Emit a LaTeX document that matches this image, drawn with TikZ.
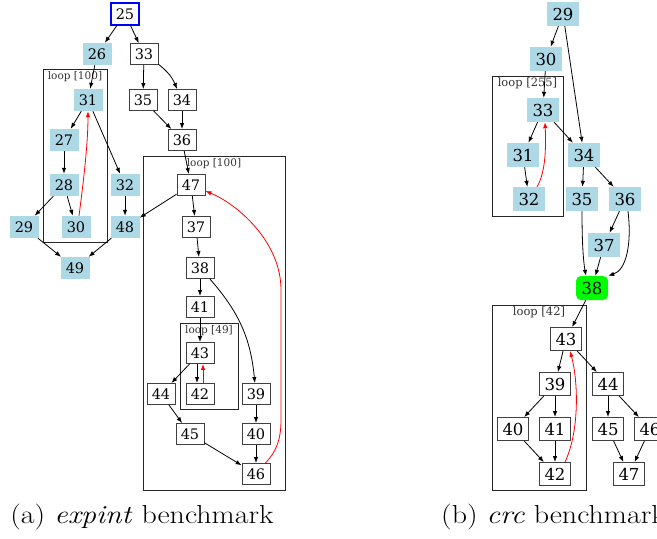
\documentclass[tikz,border=0pt]{standalone}
\usepackage{fontspec}
\usepackage{tikz}
\usetikzlibrary{positioning, arrows.meta, calc}
\newfontfamily\dvs{DejaVu Serif}
\definecolor{lblue}{HTML}{ADD8E6}
\definecolor{vgreen}{HTML}{00FF00}
\definecolor{entryblue}{HTML}{0000FF}
\newcommand{\lfont}{\dvs\fontsize{14.5}{16}\selectfont}
\newcommand{\rfont}{\dvs\fontsize{16.5}{18}\selectfont}
\newcommand{\capwide}[1]{\scalebox{1.15}[1]{#1}}
\begin{document}
\begin{tikzpicture}[
        x=1pt, y=-1pt,
        blk/.style={fill=lblue, minimum width=29pt, minimum height=22pt, inner sep=0pt, font=\lfont},
        wht/.style={draw=black!75, line width=0.9pt, fill=white, minimum width=28pt, minimum height=21pt, inner sep=0pt, font=\lfont},
        entry/.style={draw=entryblue, line width=1.3pt, fill=white, minimum width=28pt, minimum height=22pt, inner sep=0pt, font=\lfont},
        blkR/.style={fill=lblue, minimum width=32pt, minimum height=24pt, inner sep=0pt, font=\rfont},
        whtR/.style={draw=black!75, line width=0.9pt, fill=white, minimum width=31pt, minimum height=23pt, inner sep=0pt, font=\rfont},
        exitR/.style={blkR, fill=vgreen, rounded corners=5pt},
        loopbox/.style={draw=black!85, line width=0.8pt},
        looplbl/.style={anchor=north, inner sep=1pt, text=black!80, font=\dvs\fontsize{10.5}{12}\selectfont},
        arrow/.style={->, >={Latex[length=6pt,width=4.5pt]}, line width=0.8pt},
        back/.style={arrow, red},
        caption/.style={inner sep=0pt, font=\fontsize{26}{30}\selectfont}
    ]
    \useasboundingbox (0,0) rectangle (657,539);
    \clip (0,0) rectangle (657,539);

    % (a) expint
    \node[entry] (n25) at (125,14) {25};
    \node[blk] (n26) at (97,54) {26};
    \node[wht] (n33) at (144,54) {33};
    \node[blk] (n31) at (88,100) {31};
    \node[wht] (n35) at (143,100) {35};
    \node[wht] (n34) at (182,100) {34};
    \node[blk] (n27) at (64,140) {27};
    \node[wht] (n36) at (182,140) {36};
    \node[blk] (n28) at (64,185) {28};
    \node[blk] (n32) at (125,185) {32};
    \node[wht] (n47) at (191,185) {47};
    \node[blk] (n29) at (24,227) {29};
    \node[blk] (n30) at (76,227) {30};
    \node[blk] (n48) at (125,227) {48};
    \node[wht] (n37) at (196,227) {37};
    \node[blk] (n49) at (75,268) {49};
    \node[wht] (n38) at (200,268) {38};
    \node[wht] (n41) at (200,307) {41};
    \node[wht] (n43) at (200,353) {43};
    \node[wht] (n44) at (161,394) {44};
    \node[wht] (n42) at (200,394) {42};
    \node[wht] (n39) at (256,394) {39};
    \node[wht] (n45) at (190,434) {45};
    \node[wht] (n40) at (256,434) {40};
    \node[wht] (n46) at (256,474) {46};

    \draw[loopbox] (43,69) rectangle (107,242);
    \node[looplbl] (la) at (75,70) {loop [100]};
    \draw[loopbox] (143,156) rectangle (285,490);
    \node[looplbl] (lb) at (214,157) {loop [100]};
    \draw[loopbox] (180,323) rectangle (238,409);
    \node[looplbl] (lc) at (209,324) {loop [49]};

    \draw[arrow] (n25) -- (n26); \draw[arrow] (n25) -- (n33);
    \draw[arrow] (n26) -- (n31);
    \draw[arrow] (n33) -- (n35); \draw[arrow] (n33) to[bend left=15] (n34);
    \draw[arrow] (n35) -- (n36); \draw[arrow] (n34) -- (n36);
    \draw[arrow] (n31) -- (n27); \draw[arrow] (n31) -- (n32);
    \draw[arrow] (n27) -- (n28);
    \draw[arrow] (n28) -- (n29); \draw[arrow] (n28) -- (n30);
    \draw[back] ([xshift=3pt]n30.north) .. controls (83,185) and (88,145) .. (n31.south);
    \draw[arrow] (n32) -- (n48);
    \draw[arrow] (n29) -- (n49); \draw[arrow] (n48) -- (n49);
    \draw[arrow] (n36) -- (n47);
    \draw[arrow] (n47) -- (n48); \draw[arrow] (n47) -- (n37);
    \draw[arrow] (n37) -- (n38);
    \draw[arrow] (n38) -- (n41); \draw[arrow] (n38) to[bend left=18] (n39);
    \draw[arrow] (n41) -- (n43);
    \draw[arrow] (n43) -- (n44);
    \draw[arrow] ([xshift=-3pt]n43.south) -- ([xshift=-3pt]n42.north);
    \draw[back] ([xshift=3pt]n42.north) -- ([xshift=3pt]n43.south);
    \draw[arrow] (n44) -- (n45);
    \draw[arrow] (n39) -- (n40); \draw[arrow] (n40) -- (n46);
    \draw[arrow] (n45) -- (n46);
    \draw[back] ([xshift=-5pt]n46.north east) .. controls (276,452) and (281,440) .. (281,420)
        -- (281,290) .. controls (281,240) and (235,203) .. ([yshift=-6pt]n47.east);

    % (b) crc
    \node[blkR] (c29) at (563,14) {29};
    \node[blkR] (c30) at (546,59) {30};
    \node[blkR] (c33) at (543,110) {33};
    \node[blkR] (c31) at (523,155) {31};
    \node[blkR] (c34) at (584,155) {34};
    \node[blkR] (c32) at (529,199) {32};
    \node[blkR] (c35) at (582,199) {35};
    \node[blkR] (c36) at (625,199) {36};
    \node[blkR] (c37) at (604,245) {37};
    \node[exitR] (c38) at (592,288) {38};
    \node[whtR] (c43) at (566,339) {43};
    \node[whtR] (c39) at (555,384) {39};
    \node[whtR] (c44) at (608,384) {44};
    \node[whtR] (c40) at (513,429) {40};
    \node[whtR] (c41) at (555,429) {41};
    \node[whtR] (c45) at (608,429) {45};
    \node[whtR] (c46) at (650,429) {46};
    \node[whtR] (c42) at (555,474) {42};
    \node[whtR] (c47) at (629,474) {47};

    \draw[loopbox] (492,76) rectangle (563,216);
    \node[looplbl, font=\dvs\fontsize{11.5}{13}\selectfont] (ld) at (527.5,77) {loop [255]};
    \draw[loopbox] (492,305) rectangle (586,490);
    \node[looplbl, font=\dvs\fontsize{11.5}{13}\selectfont] (le) at (539,306) {loop [42]};

    \draw[arrow] (c29) -- (c30); \draw[arrow] (c29) -- (c34);
    \draw[arrow] (c30) -- (c33);
    \draw[arrow] (c33) -- (c31); \draw[arrow] (c33) -- (c34);
    \draw[arrow] (c31) -- (c32);
    \draw[back] ([xshift=8pt]c32.north) .. controls (546,172) and (546,145) .. ([xshift=2pt]c33.south);
    \draw[arrow] (c34) -- (c35); \draw[arrow] (c34) -- (c36);
    \draw[arrow] (c35) .. controls (582,250) and (584,265) .. ([xshift=-6pt]c38.north);
    \draw[arrow] (c36) -- (c37);
    \draw[arrow] ([xshift=3pt]c36.south) .. controls (632,245) and (626,270) .. (c38.north east);
    \draw[arrow] (c37) -- (c38);
    \draw[arrow] (c38) -- (c43);
    \draw[arrow] (c43) -- (c39); \draw[arrow] (c43) -- (c44);
    \draw[arrow] (c39) -- (c40); \draw[arrow] (c39) -- (c41);
    \draw[arrow] (c40) -- (c42); \draw[arrow] (c41) -- (c42);
    \draw[back] ([xshift=10pt]c42.north) .. controls (580,430) and (578,380) .. ([xshift=4pt]c43.south);
    \draw[arrow] (c44) -- (c45); \draw[arrow] (c44) -- (c46);
    \draw[arrow] (c45) -- (c47); \draw[arrow] (c46) -- (c47);

    % captions
    \node[caption, anchor=base] (capa) at (142,523) {\capwide{(a) \textit{expint} benchmark}};
    \node[caption, anchor=base west] (capb) at (441,523) {\capwide{(b) \textit{crc} benchmark}};
\end{tikzpicture}
\end{document}
